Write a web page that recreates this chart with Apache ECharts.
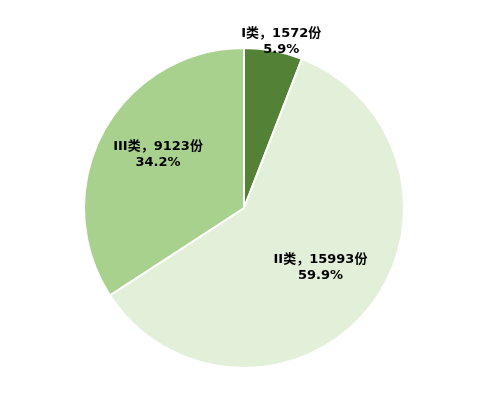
<!DOCTYPE html>
<html>
<head>
<meta charset="utf-8">
<script src="https://cdn.jsdelivr.net/npm/echarts@6/dist/echarts.min.js"></script>
<style>
  html, body { margin: 0; padding: 0; background: #fff; }
  #chart { width: 482px; height: 396px; }
</style>
</head>
<body>
<div id="chart"></div>
<script>
// Categories, counts and shares of each class
var categories = ['I类', 'II类', 'III类'];
var counts = [1572, 15993, 9123];
var shares = ['5.9%', '59.9%', '34.2%'];
var colors = ['#538135', '#E2EFD9', '#A9D18E'];
var labelOffsets = [[22, -85], [12, 7], [-13, -14]];

var data = categories.map(function (c, i) {
  return {
    name: c,
    value: counts[i],
    itemStyle: { color: colors[i] },
    label: { offset: labelOffsets[i] }
  };
});

var chart = echarts.init(document.getElementById('chart'));
chart.setOption({
  animation: false,
  series: [{
    type: 'pie',
    center: [244, 208],
    radius: [0, 160],
    startAngle: 90,
    clockwise: true,
    avoidLabelOverlap: false,
    data: data,
    itemStyle: { borderColor: '#ffffff', borderWidth: 2 },
    label: {
      show: true,
      position: 'inside',
      fontFamily: 'DejaVu Sans, Noto Sans CJK SC, sans-serif',
      fontWeight: 'bold',
      fontSize: 13,
      lineHeight: 16,
      color: '#000000',
      align: 'center',
      formatter: function (p) {
        return p.name + '，' + p.value + '份\n' + shares[p.dataIndex];
      }
    },
    labelLine: { show: false },
    emphasis: { disabled: true }
  }]
});
</script>
</body>
</html>
